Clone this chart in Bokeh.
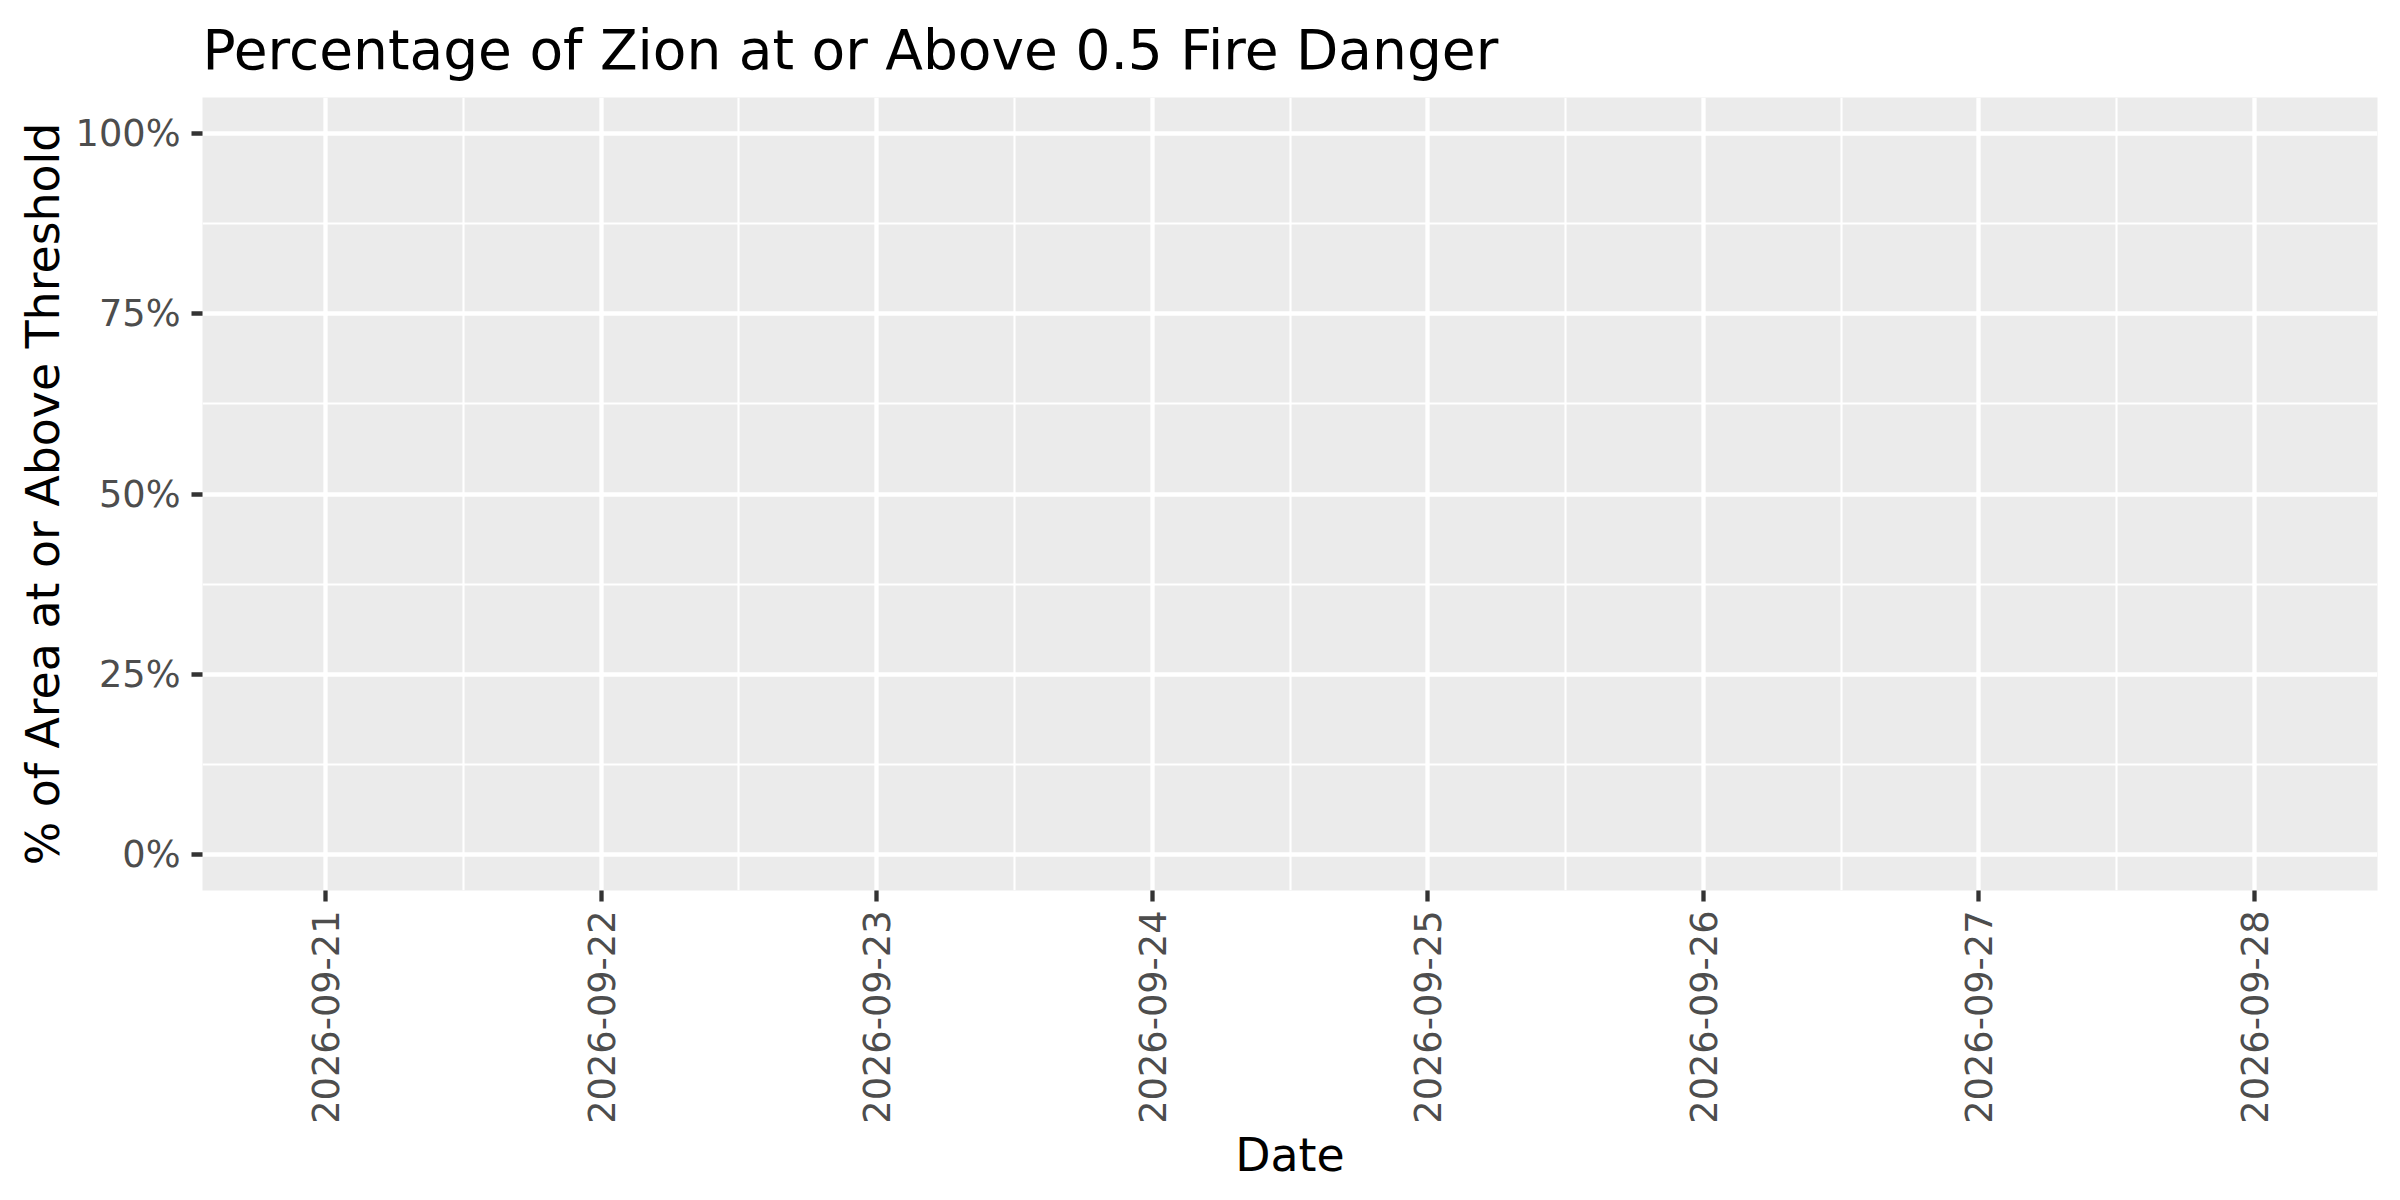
import math

import numpy as np
import pandas as pd
from bokeh.plotting import figure
from bokeh.models import (Range1d, FixedTicker, DatetimeTickFormatter,
                          NumeralTickFormatter, ColumnDataSource)
from bokeh.embed import file_html
from bokeh.resources import INLINE

# ---- data ----
dates = ["2026-09-21", "2026-09-22", "2026-09-23", "2026-09-24",
         "2026-09-25", "2026-09-26", "2026-09-27", "2026-09-28"]
pct_above = [np.nan, np.nan, np.nan, np.nan, np.nan, np.nan, np.nan, np.nan]
y_ticks = [0.0, 0.25, 0.5, 0.75, 1.0]
y_minor = [0.125, 0.375, 0.625, 0.875]

title_text = "Percentage of Zion at or Above 0.5 Fire Danger"
x_label = "Date"
y_label = "% of Area at or Above Threshold"

FONT = "DejaVu Sans"

dt = pd.to_datetime(dates)
ms = [int(t.value // 10**6) for t in dt]
day_ms = 86400000
minor_ms = [m + day_ms // 2 for m in ms[:-1]]

pad = 0.447 * day_ms
x_range = Range1d(ms[0] - pad, ms[-1] + pad)
y_range = Range1d(-0.05, 1.05)

p = figure(width=2384, height=1184, x_axis_type="datetime",
           x_range=x_range, y_range=y_range,
           output_backend="svg", toolbar_location=None,
           min_border_left=202, min_border_top=97,
           min_border_right=7, min_border_bottom=294)

src = ColumnDataSource(dict(x=dt, y=pct_above))
p.line("x", "y", source=src, line_color="#F8766D", line_width=4)

# title
p.title.text = title_text
p.title.text_font = FONT
p.title.text_font_size = "55px"
p.title.text_font_style = "normal"
p.title.text_color = "black"
p.title.align = "left"
p.title.standoff = 31

# backgrounds
p.background_fill_color = "#EBEBEB"
p.border_fill_color = "white"
p.outline_line_color = None

# x axis
xax = p.xaxis[0]
xax.ticker = FixedTicker(ticks=ms, minor_ticks=minor_ms)
fmt = "%Y-%m-%d"
xax.formatter = DatetimeTickFormatter(days=fmt, months=fmt, years=fmt,
                                      hours=fmt, hourmin=fmt, minutes=fmt,
                                      minsec=fmt, seconds=fmt,
                                      milliseconds=fmt, microseconds=fmt)
xax.major_label_orientation = math.pi / 2
xax.axis_label = x_label

# y axis
yax = p.yaxis[0]
yax.ticker = FixedTicker(ticks=y_ticks, minor_ticks=y_minor)
yax.formatter = NumeralTickFormatter(format="0%")
yax.axis_label = y_label

for ax in (xax, yax):
    ax.axis_line_color = None
    ax.major_tick_line_color = "#333333"
    ax.major_tick_line_width = 4.3
    ax.major_tick_out = 11
    ax.major_tick_in = 0
    ax.minor_tick_line_color = None
    ax.major_label_text_font = FONT
    ax.major_label_text_font_size = "36.7px"
    ax.major_label_text_color = "#4D4D4D"
    ax.axis_label_text_font = FONT
    ax.axis_label_text_font_size = "45.8px"
    ax.axis_label_text_font_style = "normal"
    ax.axis_label_text_color = "black"

xax.major_label_standoff = 9
xax.axis_label_standoff = 1
yax.major_label_standoff = 11
yax.axis_label_standoff = 3

# grids
for g in (p.xgrid[0], p.ygrid[0]):
    g.grid_line_color = "white"
    g.grid_line_width = 4.3
    g.minor_grid_line_color = "white"
    g.minor_grid_line_width = 2.1
p.xgrid[0].ticker = xax.ticker
p.ygrid[0].ticker = yax.ticker

open("out.html", "w").write(file_html(p, INLINE))
